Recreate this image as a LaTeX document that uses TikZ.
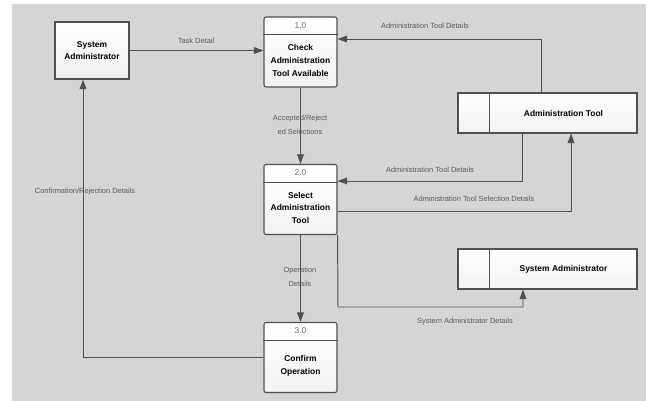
\documentclass[tikz,border=0pt]{standalone}
\usepackage{fontspec}
\setmainfont{Liberation Sans}
\usetikzlibrary{arrows.meta,positioning,calc}
\definecolor{canvas}{HTML}{D5D5D5}
\definecolor{edgegray}{HTML}{505050}
\definecolor{lblgray}{HTML}{5A5A5A}

\begin{document}
\begin{tikzpicture}[x=0.025cm, y=-0.025cm,
    entity/.style={draw=edgegray, line width=0.8pt, top color=white, bottom color=black!6, minimum width=1.85cm, minimum height=1.425cm, align=center, font=\fontsize{6}{8.5}\selectfont\bfseries},
    proc/.style={draw=edgegray, line width=0.8pt, rounded corners=1.5pt, top color=white, bottom color=black!5, minimum width=1.825cm, minimum height=1.75cm},
    store/.style={draw=edgegray, line width=0.8pt, top color=white, bottom color=black!5, minimum width=4.475cm, minimum height=1cm},
    pnum/.style={font=\fontsize{6}{7}\selectfont, text=black!55},
    ptxt/.style={align=center, font=\fontsize{6}{9}\selectfont\bfseries},
    stxt/.style={font=\fontsize{6}{7}\selectfont\bfseries},
    sep/.style={draw=edgegray, line width=0.6pt},
    flow/.style={-{Triangle[length=0.24cm, width=0.17cm]}, draw=edgegray, line width=0.7pt},
    lbl/.style={font=\fontsize{5.3}{9.5}\selectfont, text=lblgray, align=center, inner sep=0pt}
]
\useasboundingbox (0,0) rectangle (647,401);
\fill[white] (0,0) rectangle (647,401);
\fill[canvas] (12,4) rectangle (646,401);

% external entity
\node[entity] (sa) at (92,50.5) {System\\Administrator};

% processes
\node[proc] (p1) at (300.5,52) {};
\node[pnum] (p1num) at ($(p1.north)+(0,9)$) {1.0};
\node[ptxt] (p1txt) at ($(p1.north)+(0,44)$) {Check\\Administration\\Tool Available};
\draw[sep] ($(p1.north west)+(0,18)$) -- ($(p1.north east)+(0,18)$);

\node[proc] (p2) at (300.5,199.5) {};
\node[pnum] (p2num) at ($(p2.north)+(0,9)$) {2.0};
\node[ptxt] (p2txt) at ($(p2.north)+(0,44)$) {Select\\Administration\\Tool};
\draw[sep] ($(p2.north west)+(0,18)$) -- ($(p2.north east)+(0,18)$);

\node[proc] (p3) at (300.5,357.5) {};
\node[pnum] (p3num) at ($(p3.north)+(0,9)$) {3.0};
\node[ptxt] (p3txt) at ($(p3.north)+(0,44)$) {Confirm\\Operation};
\draw[sep] ($(p3.north west)+(0,18)$) -- ($(p3.north east)+(0,18)$);

% data stores
\node[store] (at) at (547.5,113) {};
\draw[sep] ($(at.north west)+(32,0)$) -- ($(at.south west)+(32,0)$);
\node[stxt] (attxt) at ($(at.center)+(16,0)$) {Administration Tool};

\node[store] (sd) at (547.5,269) {};
\draw[sep] ($(sd.north west)+(32,0)$) -- ($(sd.south west)+(32,0)$);
\node[stxt] (sdtxt) at ($(sd.center)+(16,0)$) {System Administrator};

\coordinate (sdbend) at (338,307);

% flows
\draw[flow] (sa.east) -- (sa.east -| p1.west);
\draw[flow] ($(at.north)+(-6.5,0)$) |- ($(p1.east)+(0,-13)$);
\draw[flow] (p1.south) -- (p2.north);
\draw[flow] ($(at.south)+(-25.5,0)$) |- ($(p2.east)+(0,-18.5)$);
\draw[flow] ($(p2.east)+(0,11.5)$) -| ($(at.south)+(23.5,0)$);
\draw[flow] (p2.south) -- (p3.north);
\draw[flow] (p2.south east) -- (sdbend) -| ($(sd.south)+(-24.5,0)$);
\draw[flow] (p3.west) -| ($(sa.south)+(-9,0)$);

% labels
\node[lbl] (l1) at (196,41) {Task Detail};
\node[lbl] (l2) at (425,26) {Administration Tool Details};
\node[lbl] (l3) at (300,125) {Accepted/Reject\\ed Selections};
\node[lbl] (l4) at (430,170) {Administration Tool Details};
\node[lbl] (l5) at (474,199) {Administration Tool Selection Details};
\node[lbl] (l6) at (300,277) {Operation\\Details};
\node[lbl] (l7) at (465,322) {System Administrator Details};
\node[lbl] (l8) at (85,192) {Confirmation/Rejection Details};
\end{tikzpicture}
\end{document}
